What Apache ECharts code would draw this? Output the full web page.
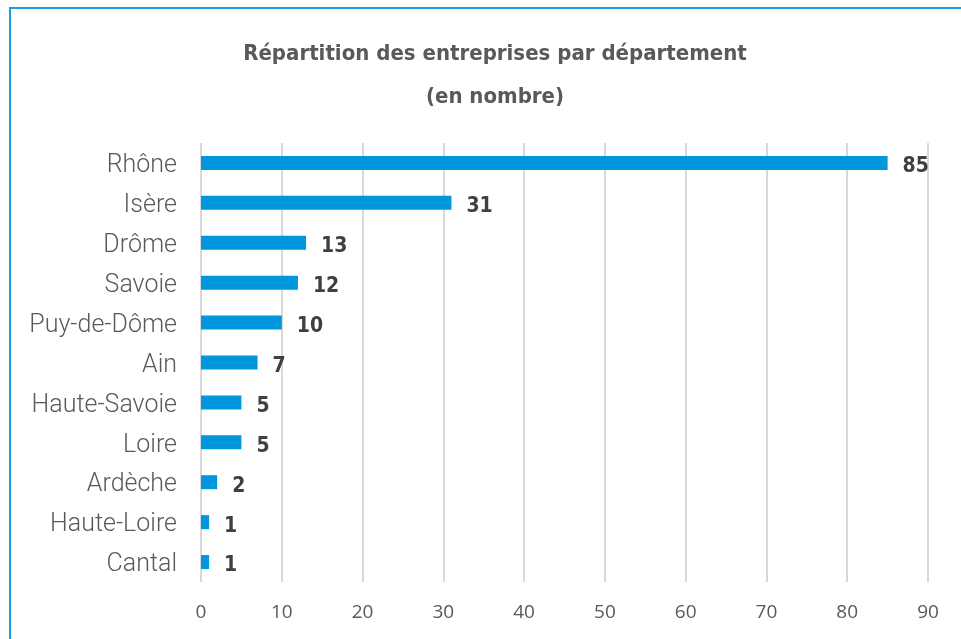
<!DOCTYPE html>
<html lang="fr">
<head>
    <meta charset="UTF-8">
    <title>Répartition des entreprises par département</title>
    <script src="https://cdn.jsdelivr.net/npm/echarts@6/dist/echarts.min.js"></script>
    <style>
        body { margin: 0; background: #fff; }
        #frame {
            position: absolute; left: 9px; top: 7px; width: 1000px; height: 700px;
            border-left: 2px solid #1a9ae0; border-top: 2px solid #1a9ae0;
        }
        #chart { position: absolute; left: 0; top: 0; width: 961px; height: 639px; }
    </style>
</head>
<body>
<div id="frame"></div>
<div id="chart"></div>
<script>
    // données (de haut en bas)
    var departements = ['Rhône', 'Isère', 'Drôme', 'Savoie', 'Puy-de-Dôme', 'Ain',
        'Haute-Savoie', 'Loire', 'Ardèche', 'Haute-Loire', 'Cantal'];
    var nombres = [85, 31, 13, 12, 10, 7, 5, 5, 2, 1, 1];

    var condensed = "'DejaVu Sans Condensed', 'DejaVu Sans', sans-serif";

    var chart = echarts.init(document.getElementById('chart'));
    var option = {
        animation: false,
        title: {
            text: 'Répartition des entreprises par département\n(en nombre)',
            left: 490,
            textAlign: 'center',
            top: 28,
            textStyle: {
                fontFamily: condensed,
                fontWeight: 'bold',
                fontSize: 22,
                lineHeight: 43,
                color: '#595959'
            }
        },
        grid: {
            left: 201,
            right: 33,
            top: 143,
            bottom: 57,
            containLabel: false
        },
        xAxis: {
            type: 'value',
            min: 0,
            max: 90,
            interval: 10,
            axisLine: { show: false },
            axisTick: { show: false },
            splitLine: { lineStyle: { color: '#d9d9d9', width: 2 } },
            axisLabel: {
                margin: 21,
                fontFamily: 'Open Sans',
                fontSize: 19,
                color: '#595959'
            }
        },
        yAxis: {
            type: 'category',
            data: departements,
            inverse: true,
            axisLine: { show: false },
            axisTick: { show: false },
            axisLabel: {
                margin: 24,
                formatter: function (v) { return '{d|' + v + '}'; },
                rich: {
                    d: {
                        padding: [6, 0, 0, 0],
                        fontFamily: 'Roboto',
                        fontWeight: 300,
                        fontSize: 25,
                        color: '#595959'
                    }
                }
            }
        },
        series: [{
            type: 'bar',
            data: nombres,
            barWidth: 14,
            itemStyle: { color: '#0097dc' },
            label: {
                show: true,
                position: 'right',
                distance: 15,
                offset: [0, 4],
                fontFamily: condensed,
                fontWeight: 'bold',
                fontSize: 21,
                color: '#404040'
            }
        }]
    };
    chart.setOption(option);
</script>
</body>
</html>
